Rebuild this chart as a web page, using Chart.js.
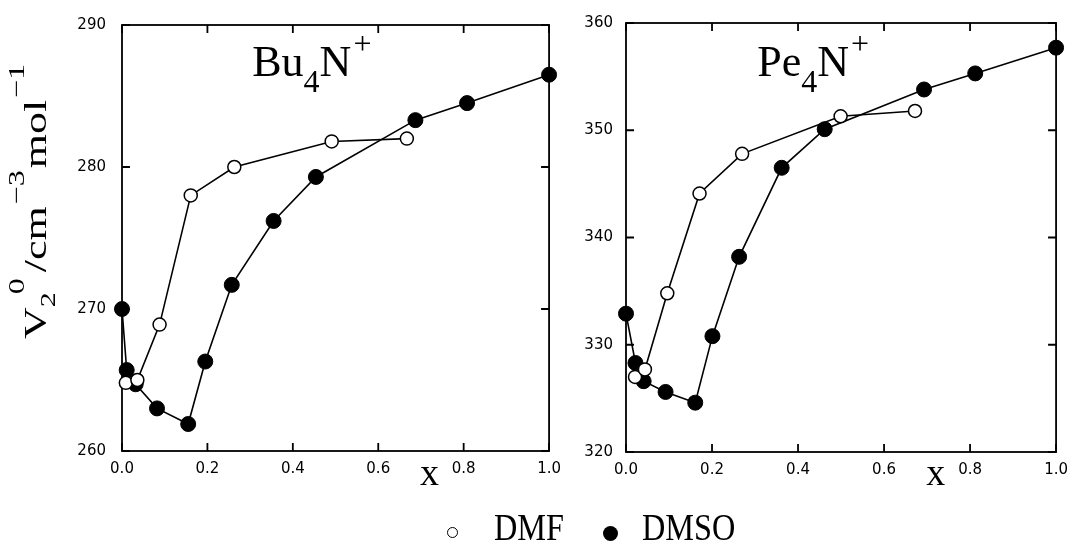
<!DOCTYPE html>
<html><head><meta charset="utf-8">
<script src="https://cdn.jsdelivr.net/npm/chart.js@4.4.1/dist/chart.umd.min.js"></script>
<style>
html,body{margin:0;padding:0;background:#fff;width:1077px;height:547px;overflow:hidden;position:relative}
#c1{position:absolute;left:0;top:0}
#c2{position:absolute;left:570px;top:0}
.lt{position:absolute;font-family:'Liberation Serif',serif;font-size:38px;line-height:38px;color:#000;transform-origin:0 0;transform:scaleX(0.85);white-space:nowrap}
.mk{position:absolute;border-radius:50%;box-sizing:border-box}
</style></head><body>
<canvas id="c1" width="570" height="547"></canvas>
<canvas id="c2" width="507" height="547"></canvas>
<div class="mk" style="left:447px;top:527px;width:11px;height:11px;border:1.5px solid #000;background:#fff"></div>
<div class="lt" style="left:494px;top:508px">DMF</div>
<div class="mk" style="left:603px;top:526px;width:15px;height:15px;background:#000"></div>
<div class="lt" style="left:642px;top:508px">DMSO</div>
<script>
// ---- data ----
const xTickLabels = ['0.0','0.2','0.4','0.6','0.8','1.0'];
const buYTicks = [260, 270, 280, 290];
const peYTicks = [320, 330, 340, 350, 360];
const seriesNames = ['DMF', 'DMSO'];

const buDmfX  = [0.009, 0.036, 0.088, 0.161, 0.263, 0.491, 0.667];
const buDmfY  = [264.8, 265.0, 268.9, 278.0, 280.0, 281.8, 282.0];
const buDmsoX = [0.000, 0.011, 0.032, 0.082, 0.155, 0.195, 0.257, 0.355, 0.454, 0.687, 0.808, 1.000];
const buDmsoY = [270.0, 265.7, 264.7, 263.0, 261.9, 266.3, 271.7, 276.2, 279.3, 283.3, 284.5, 286.5];

const peDmfX  = [0.021, 0.044, 0.096, 0.171, 0.270, 0.499, 0.672];
const peDmfY  = [327.0, 327.7, 334.8, 344.1, 347.8, 351.3, 351.8];
const peDmsoX = [0.000, 0.022, 0.041, 0.092, 0.161, 0.201, 0.263, 0.362, 0.462, 0.693, 0.812, 1.000];
const peDmsoY = [332.9, 328.3, 326.6, 325.6, 324.6, 330.8, 338.2, 346.5, 350.1, 353.8, 355.3, 357.7];

// ---- helpers ----
const SERIF = '"Liberation Serif", serif';
function pts(xs, ys){ return xs.map((x,i)=>({x:x, y:ys[i]})); }

function richText(ctx, segs, x, y, rotated, squeeze){
  ctx.save();
  ctx.translate(x, y);
  if (rotated){ ctx.rotate(-Math.PI/2); ctx.scale(1, squeeze); }
  else { ctx.scale(squeeze, 1); }
  ctx.fillStyle = '#000';
  ctx.textBaseline = 'alphabetic';
  ctx.textAlign = 'left';
  let cx = 0;
  segs.forEach(s=>{
    ctx.font = s.size + 'px ' + SERIF;
    ctx.fillText(s.t, cx + (s.dx||0), s.dy||0);
    cx += ctx.measureText(s.t).width + (s.dx||0);
  });
  ctx.restore();
}

const framePlugin = {
  id: 'frame',
  beforeDatasetsDraw(chart){
    const {ctx, chartArea:a, scales:{x, y}} = chart;
    ctx.save();
    ctx.strokeStyle = '#000';
    ctx.lineWidth = 1.8;
    ctx.strokeRect(a.left, a.top, a.right-a.left, a.bottom-a.top);
    ctx.beginPath();
    x.ticks.forEach(t=>{
      const p = x.getPixelForValue(t.value);
      ctx.moveTo(p, a.bottom); ctx.lineTo(p, a.bottom-8);
      ctx.moveTo(p, a.top); ctx.lineTo(p, a.top+8);
    });
    y.ticks.forEach(t=>{
      const p = y.getPixelForValue(t.value);
      ctx.moveTo(a.left, p); ctx.lineTo(a.left+8, p);
      ctx.moveTo(a.right, p); ctx.lineTo(a.right-8, p);
    });
    ctx.stroke();
    ctx.restore();
  }
};

const textPlugin = {
  id: 'texts',
  afterDraw(chart, args, opts){
    const {ctx, scales:{x}} = chart;
    // panel label
    richText(ctx, [
      {t: opts.ion, size: 44},
      {t: '4', size: 32, dy: 16},
      {t: 'N', size: 44},
      {t: '+', size: 32, dy: -22, dx: 2}
    ], x.getPixelForValue(0.305), 76, false, 1.0);
    // x axis title
    ctx.save();
    ctx.font = '38px ' + SERIF;
    ctx.fillStyle = '#000';
    ctx.textAlign = 'center';
    ctx.textBaseline = 'alphabetic';
    ctx.fillText('x', x.getPixelForValue(0.72), 485);
    ctx.restore();
    if (opts.yTitle){
      richText(ctx, [
        {t: 'V', size: 44},
        {t: '2', size: 30, dy: 12},
        {t: '0', size: 32, dy: -30, dx: -2},
        {t: '/cm', size: 44, dx: 6},
        {t: '\u22123', size: 32, dy: -30, dx: 2},
        {t: 'mol', size: 44, dx: 2},
        {t: '\u22121', size: 32, dy: -30, dx: 2}
      ], 46, 339, true, 0.72);
    }
  }
};

function makeChart(id, dmfX, dmfY, dmsoX, dmsoY, yTicks, yAxisWidth, padRight, padTop, xAxisHeight, ion, yTitle, yPad){
  return new Chart(document.getElementById(id), {
    type: 'scatter',
    data: {
      datasets: [
        { label: seriesNames[0], data: pts(dmfX, dmfY), showLine: true, clip: false,
          borderColor: '#000', borderWidth: 1.6,
          pointRadius: 6.5, pointBackgroundColor: '#fff', pointBorderColor: '#000', pointBorderWidth: 1.5 },
        { label: seriesNames[1], data: pts(dmsoX, dmsoY), showLine: true, clip: false,
          borderColor: '#000', borderWidth: 1.6,
          pointRadius: 7.5, pointBackgroundColor: '#000', pointBorderColor: '#000', pointBorderWidth: 1 }
      ]
    },
    options: {
      responsive: false, animation: false, devicePixelRatio: 1,
      layout: { padding: { left: 0, right: padRight, top: padTop, bottom: 0 } },
      plugins: { legend: { display: false }, tooltip: { enabled: false },
                 texts: { ion: ion, yTitle: yTitle } },
      scales: {
        x: { type: 'linear', min: 0, max: 1,
             grid: { display: false, drawTicks: false }, border: { display: false },
             afterBuildTicks: s => { s.ticks = xTickLabels.map(v => ({ value: parseFloat(v) })); },
             ticks: { padding: 9, color: '#000', font: { family: 'DejaVu Sans', size: 15 },
                      maxRotation: 0, autoSkip: false,
                      callback: (v, i) => xTickLabels[i] },
             afterFit: s => { s.height = xAxisHeight; } },
        y: { type: 'linear', min: yTicks[0], max: yTicks[yTicks.length-1],
             grid: { display: false, drawTicks: false }, border: { display: false },
             afterBuildTicks: s => { s.ticks = yTicks.map(v => ({ value: v })); },
             ticks: { padding: yPad, color: '#000', font: { family: 'DejaVu Sans', size: 15 },
                      autoSkip: false, callback: (v) => String(v) },
             afterFit: s => { s.width = yAxisWidth; } }
      }
    },
    plugins: [framePlugin, textPlugin]
  });
}

makeChart('c1', buDmfX, buDmfY, buDmsoX, buDmsoY, buYTicks, 122, 15, 22, 96, 'Bu', true, 16);
makeChart('c2', peDmfX, peDmfY, peDmsoX, peDmsoY, peYTicks, 56, 17, 23, 95, 'Pe', false, 13);
</script>
</body></html>
